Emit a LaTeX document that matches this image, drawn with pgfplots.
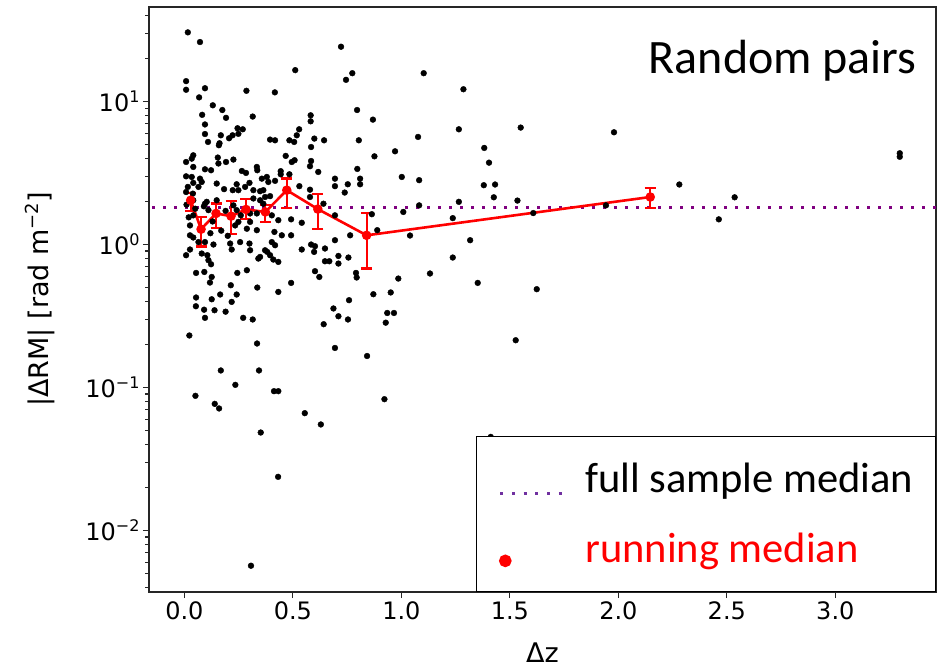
\documentclass[border=0pt]{standalone}
\usepackage{fontspec}
\setmainfont{DejaVu Sans}
\newfontfamily\carlito{Carlito}
\usepackage{pgfplots}
\pgfplotsset{compat=1.18}
\usepackage{pgfplotstable}
\definecolor{medpurple}{RGB}{128,0,128}
\definecolor{legpurple}{RGB}{112,48,160}

\pgfplotstableread{
x y
0.016 30.5
0.072 26.1
0.722 24.2
0.511 16.6
0.774 15.8
0.745 14.2
1.103 15.8
0.008 13.9
0.008 12.1
0.095 12.4
0.286 11.9
0.417 11.6
1.286 12.2
0.068 10.7
0.082 8.08
0.131 9.42
0.175 8.73
0.192 7.70
0.315 7.86
0.796 8.73
0.869 7.48
0.095 6.92
0.095 5.93
0.109 5.22
0.168 5.81
0.162 5.11
0.159 4.95
0.206 5.54
0.222 5.81
0.245 6.51
0.269 6.40
0.249 5.95
0.395 5.42
0.418 5.36
0.484 5.36
0.506 5.22
0.529 6.40
0.518 5.81
0.582 8.02
0.582 7.28
0.599 5.51
0.644 5.36
0.584 4.81
0.804 5.36
1.077 5.66
1.265 6.40
0.467 4.17
0.495 3.78
0.508 3.89
0.584 3.84
0.579 3.53
0.617 3.22
0.444 3.26
0.444 3.10
0.797 3.38
0.876 4.14
0.971 4.49
1.382 4.74
1.002 2.97
1.082 2.82
1.380 2.60
1.082 1.88
1.265 1.99
1.009 1.69
1.237 1.53
0.864 1.63
0.889 1.26
1.040 1.156
1.317 1.072
1.237 0.811
1.132 0.627
0.986 0.578
1.352 0.539
0.871 0.449
0.951 0.462
0.935 0.332
0.966 0.332
1.550 6.58
1.980 6.10
1.404 3.74
1.432 2.63
1.426 2.14
1.535 2.03
1.608 1.66
1.943 1.88
2.281 2.63
2.536 2.14
2.463 1.50
3.297 4.35
3.297 4.11
1.624 0.487
1.527 0.214
1.412 0.0451
0.041 4.21
0.034 3.99
0.008 3.78
0.041 3.49
0.154 4.06
0.157 3.69
0.192 3.78
0.226 3.93
0.095 3.36
0.123 3.31
0.265 3.27
0.284 3.17
0.334 3.49
0.336 3.31
0.008 3.00
0.034 2.97
0.072 2.89
0.041 2.70
0.080 2.74
0.149 2.67
0.241 2.64
0.300 2.70
0.357 2.89
0.016 2.53
0.065 2.53
0.183 2.44
0.223 2.40
0.249 2.40
0.280 2.53
0.318 2.40
0.349 2.36
0.008 2.33
0.039 2.27
0.103 1.99
0.149 2.04
0.318 2.10
0.349 2.04
0.380 2.97
0.387 2.74
0.418 2.79
0.484 3.10
0.694 2.89
0.694 2.56
0.753 2.64
0.810 2.89
0.810 2.64
0.530 2.56
0.579 2.42
0.364 2.40
0.372 2.15
0.395 2.18
0.579 2.15
0.041 2.04
0.095 1.93
0.111 1.74
0.226 1.88
0.241 1.74
0.303 1.65
0.303 1.44
0.334 1.65
0.364 1.93
0.041 1.60
0.026 1.36
0.234 1.36
0.249 1.44
0.288 1.29
0.334 1.26
0.026 1.16
0.041 1.12
0.065 1.04
0.095 1.04
0.134 1.00
0.211 1.016
0.257 1.04
0.300 1.016
0.303 0.912
0.026 0.923
0.008 0.842
0.080 0.865
0.106 0.842
0.111 0.777
0.123 0.728
0.218 0.923
0.341 0.798
0.372 0.912
0.054 0.633
0.092 0.643
0.126 0.593
0.118 0.542
0.244 0.633
0.288 0.661
0.214 0.519
0.336 0.500
0.054 0.426
0.126 0.414
0.165 0.447
0.241 0.447
0.218 0.397
0.053 0.370
0.091 0.350
0.139 0.347
0.190 0.339
0.095 0.307
0.271 0.307
0.315 0.299
0.023 0.231
0.335 0.203
0.687 0.357
0.710 0.315
0.754 0.299
0.642 0.277
0.694 0.189
0.842 0.166
0.928 0.284
0.168 0.1315
0.344 0.1315
0.051 0.0874
0.235 0.1043
0.140 0.0768
0.160 0.0713
0.413 0.0942
0.433 0.0942
0.922 0.0828
0.555 0.0661
0.629 0.0551
0.352 0.0484
0.432 0.0237
0.307 0.00566
0.403 1.60
0.433 1.48
0.492 1.50
0.541 1.42
0.641 1.93
0.694 1.60
0.415 1.225
0.449 1.16
0.492 1.16
0.764 1.16
0.403 1.04
0.418 0.989
0.694 1.072
0.584 1.00
0.602 0.973
0.598 0.888
0.541 0.923
0.648 0.938
0.382 0.888
0.395 0.842
0.349 0.819
0.410 0.785
0.433 0.756
0.710 0.832
0.756 0.811
0.648 0.764
0.668 0.764
0.710 0.736
0.602 0.651
0.622 0.593
0.791 0.633
0.794 0.588
0.492 0.539
0.433 0.466
0.759 0.408
0.739 2.31
0.010 1.90
0.020 1.55
0.050 1.78
0.090 1.85
0.130 1.45
0.190 1.72
0.260 1.60
0.170 1.25
0.200 1.15
0.120 1.20
}\scatterdata

\pgfplotstableread{
x y ep em
0.029 2.04 0.26 0.33
0.077 1.28 0.28 0.31
0.146 1.65 0.29 0.34
0.215 1.58 0.44 0.39
0.284 1.76 0.32 0.26
0.373 1.69 0.19 0.25
0.472 2.40 0.50 0.59
0.615 1.77 0.48 0.48
0.840 1.16 0.50 0.48
2.147 2.15 0.35 0.35
}\runmed

\begin{document}
\begin{tikzpicture}
\begin{axis}[
  width=787pt, height=585pt, scale only axis,
  xmin=-0.163, xmax=3.464,
  ymode=log, ymin=0.003707, ymax=45.9,
  xtick={0,0.5,1,1.5,2,2.5,3},
  xticklabels={0.0,0.5,1.0,1.5,2.0,2.5,3.0},
  ytick={0.01,0.1,1,10},
  yticklabels={{10\raisebox{9pt}{\fontsize{16}{16}\selectfont −2}},
               {10\raisebox{9pt}{\fontsize{16}{16}\selectfont −1}},
               {10\raisebox{9pt}{\fontsize{16}{16}\selectfont 0}},
               {10\raisebox{9pt}{\fontsize{16}{16}\selectfont 1}}},
  minor ytick={0.004,0.005,0.006,0.007,0.008,0.009,
               0.02,0.03,0.04,0.05,0.06,0.07,0.08,0.09,
               0.2,0.3,0.4,0.5,0.6,0.7,0.8,0.9,
               2,3,4,5,6,7,8,9,20,30,40},
  tick align=outside, tick pos=left,
  major tick length=6pt, minor tick length=3.5pt,
  every tick/.style={black!85, line width=1.2pt},
  axis line style={black!85, line width=1.2pt},
  ticklabel style={font=\fontsize{24}{29}\selectfont},
  every axis x label/.style={at={(axis description cs:0.5,-0.1197)}, anchor=base, font=\fontsize{27}{32}\selectfont},
  every axis y label/.style={at={(axis description cs:-0.1385,0.5)}, anchor=center, rotate=90, font=\fontsize{27}{32}\selectfont},
  xlabel={Δz},
  ylabel={|ΔRM| [rad m\raisebox{10pt}{\fontsize{18}{18}\selectfont −2}]},
  legend cell align=left,
  legend style={at={(1,0)}, anchor=south east, draw=black, line width=1.3pt,
    fill=white, inner xsep=22pt, inner ysep=23pt, row sep=31pt, column sep=0pt,
    font=\carlito\fontsize{42.5}{42.5}\selectfont,
    nodes={inner sep=0pt, text height=33pt, text depth=6pt}},
]
\coordinate (sw) at (rel axis cs:0,0);
\coordinate (ne) at (rel axis cs:1,1);

\addplot[only marks, mark=*, mark size=2.9pt, black, forget plot]
  table[x=x, y=y]{\scatterdata};

\addplot[medpurple, line width=3pt, dash pattern=on 3pt off 8pt,
  legend image code/.code={
    \draw[legpurple, line width=3pt, dash pattern=on 3pt off 8.7pt] (0pt,-14.5pt) -- (61.5pt,-14.5pt);
    \path[draw=none] (0pt,0pt) rectangle (85pt,0pt);}]
  coordinates {(-0.3,1.81) (3.6,1.81)};
\addlegendentry{full sample median}

\addplot[red, line width=2.6pt, mark=*, mark size=3.4pt, mark options={solid},
  legend image code/.code={
    \fill[red] (5pt,-12pt) circle (5pt);
    \path[draw=none] (0pt,0pt) rectangle (85pt,0pt);},
  error bars/.cd, y dir=both, y explicit,
  error bar style={line width=2.2pt, red},
  error mark options={rotate=90, mark size=5.5pt, line width=2.2pt, red}]
  table[x=x, y=y, y error plus=ep, y error minus=em]{\runmed};
\addlegendentry{\textcolor{red}{running median}}

\node[anchor=base east, font=\carlito\fontsize{48}{58}\selectfont]
  at (rel axis cs:0.98,0.8855) {Random pairs};
\end{axis}
\pgfresetboundingbox
\path ([shift={(-149pt,-75pt)}]sw) rectangle ([shift={(11pt,7pt)}]ne);
\end{tikzpicture}
\end{document}
